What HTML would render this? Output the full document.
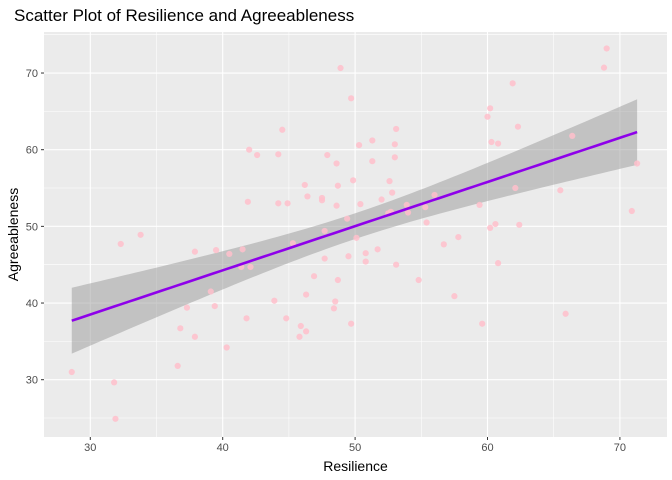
<!DOCTYPE html>
<html><head><meta charset="utf-8"><style>
body{margin:0;background:#fff;font-family:"Liberation Sans",Arial,sans-serif}
svg{display:block}
</style></head><body>
<svg id="chart" width="672" height="480">
<text x="14" y="21" font-size="17" fill="#000">Scatter Plot of Resilience and Agreeableness</text>
<rect x="44" y="32" width="623" height="405" fill="#EBEBEB"/>
<g id="grid"></g><g id="band"></g><g id="pts"></g><g id="line"></g><g id="axes"></g>
<text x="355.5" y="471" font-size="14" text-anchor="middle">Resilience</text>
<text transform="translate(18,234.5) rotate(-90)" font-size="14" text-anchor="middle">Agreeableness</text>
</svg>
<script>
const resilience=[48.9,49.7,44.5,42.0,42.6,44.2,47.9,48.6,49.85,46.2,48.7,46.4,47.5,47.5,41.9,44.2,44.9,48.6,49.4,47.7,33.8,32.3,45.3,37.9,39.5,40.5,41.5,41.4,42.1,47.7,49.5,50.1,46.9,48.7,39.1,43.9,46.3,48.5,48.4,37.3,39.4,41.8,44.8,49.7,45.9,46.3,45.8,36.8,37.9,40.3,36.6,28.6,31.8,31.9,
69.0,68.8,61.9,60.2,60.0,62.3,53.1,50.3,51.3,53.0,60.3,60.8,66.4,51.3,53.0,71.3,52.6,52.8,52.0,50.4,62.1,65.5,56.0,53.9,55.3,54.0,52.5,52.7,59.4,70.9,55.4,60.2,60.6,62.4,50.8,50.8,51.7,53.1,56.7,57.8,60.8,54.8,57.5,59.6,65.9];
const agreeableness=[70.65,66.7,62.6,60.0,59.3,59.4,59.3,58.2,56.0,55.4,55.3,53.9,53.7,53.4,53.2,53.0,53.0,52.7,51.0,49.4,48.9,47.7,47.8,46.7,46.9,46.4,47.0,44.7,44.7,45.8,46.1,48.5,43.5,43.0,41.5,40.3,41.1,40.2,39.3,39.4,39.6,38.0,38.0,37.3,37.0,36.3,35.6,36.7,35.6,34.2,31.8,31.0,29.65,24.9,
73.2,70.7,68.65,65.4,64.3,63.0,62.7,60.6,61.2,60.7,61.0,60.8,61.8,58.5,59.0,58.2,55.9,54.4,53.5,52.9,55.0,54.7,54.1,52.8,52.5,51.8,51.7,51.9,52.8,52.0,50.5,49.8,50.3,50.2,46.5,45.4,47.0,45.0,47.65,48.6,45.2,43.0,40.9,37.3,38.6];
const xTicks=[30,40,50,60,70];
const yTicks=[30,40,50,60,70];
const NS="http://www.w3.org/2000/svg";
const X=v=>90.3+(v-30)*13.24, Y=v=>379.7-(v-30)*7.667;
const L=44,R=667,T=32,B=437;
function mk(tag,attrs,parent){const e=document.createElementNS(NS,tag);for(const k in attrs)e.setAttribute(k,attrs[k]);document.getElementById(parent).appendChild(e);return e;}
// grid
for(let i=0;i<xTicks.length;i++){
 const t=xTicks[i];
 const g=mk('line',{x1:X(t),x2:X(t),y1:T,y2:B,stroke:'#fff','stroke-width':1.1},'grid');
 
 
 const m=t+5; if(X(m)<R){const gm=mk('line',{x1:X(m),x2:X(m),y1:T,y2:B,stroke:'#fff','stroke-width':0.55},'grid');
 
 }
 const tk=mk('line',{x1:X(t),x2:X(t),y1:B,y2:B+3,stroke:'#333','stroke-width':1},'axes');
 
 
 const lb=mk('text',{x:X(t),y:B+14,'font-size':11,fill:'#4D4D4D','text-anchor':'middle'},'axes');
 lb.textContent=t;
 
 
}
{const gm=mk('line',{x1:X(25),x2:X(25),y1:T,y2:B,stroke:'#fff','stroke-width':0.55},'grid');}
for(let i=0;i<yTicks.length;i++){
 const t=yTicks[i];
 const g=mk('line',{x1:L,x2:R,y1:Y(t),y2:Y(t),stroke:'#fff','stroke-width':1.1},'grid');
 
 
 for(const m of [t-5,t+5]){ if(m===t+5&&t!==70)continue; if(Y(m)>T&&Y(m)<B){const gm=mk('line',{x1:L,x2:R,y1:Y(m),y2:Y(m),stroke:'#fff','stroke-width':0.55},'grid');
 
 }}
 const tk=mk('line',{x1:L-3,x2:L,y1:Y(t),y2:Y(t),stroke:'#333','stroke-width':1},'axes');
 
 
 const lb=mk('text',{x:L-6,y:Y(t)+4,'font-size':11,fill:'#4D4D4D','text-anchor':'end'},'axes');
 lb.textContent=t;
 
 
}
// points
for(let i=0;i<resilience.length;i++){
 const c=mk('circle',{cx:X(resilience[i]),cy:Y(agreeableness[i]),r:3.1,fill:'#FFC0CB','fill-opacity':0.85},'pts');
 
 
}
// regression
const n=resilience.length;
const mx=resilience.reduce((a,b)=>a+b)/n, my=agreeableness.reduce((a,b)=>a+b)/n;
let sxx=0,sxy=0;for(let i=0;i<n;i++){sxx+=(resilience[i]-mx)**2;sxy+=(resilience[i]-mx)*(agreeableness[i]-my);}
const b1=sxy/sxx,b0=my-b1*mx;
let sse=0;for(let i=0;i<n;i++)sse+=(agreeableness[i]-b0-b1*resilience[i])**2;
const s=Math.sqrt(sse/(n-2)),tq=1.99;
const xmin=Math.min(...resilience),xmax=Math.max(...resilience);
let up=[],lo=[],ln=[];
for(let k=0;k<=80;k++){const x=xmin+(xmax-xmin)*k/80,f=b0+b1*x,se=s*Math.sqrt(1/n+(x-mx)**2/sxx);
 up.push(X(x)+','+Y(f+tq*se));lo.push(X(x)+','+Y(f-tq*se));ln.push(X(x)+','+Y(f));}
const band=mk('polygon',{points:up.concat(lo.reverse()).join(' '),fill:'#999','fill-opacity':0.5},'band');


const line=mk('polyline',{points:ln.join(' '),fill:'none',stroke:'#8E00EA','stroke-width':2.6},'line');


</script>
</body></html>
